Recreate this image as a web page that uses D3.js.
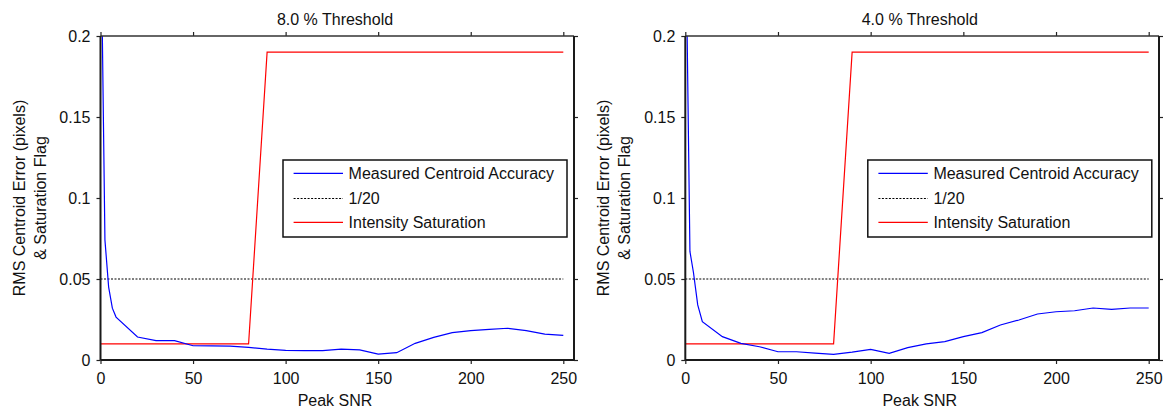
<!DOCTYPE html>
<html>
<head>
<meta charset="utf-8">
<script src="https://cdn.jsdelivr.net/npm/d3@7/dist/d3.min.js"></script>
<style>
  html, body { margin: 0; padding: 0; background: #fff; }
  svg { display: block; }
  text { font-family: "Liberation Sans", Arial, sans-serif; font-size: 16px; fill: #111; }
</style>
</head>
<body>
<svg id="chart" width="1166" height="410"></svg>
<script>
// ---------- Data ----------
const panelTitles = ["8.0 % Threshold", "4.0 % Threshold"];
const xTicks = [0, 50, 100, 150, 200, 250];
const yTicks = [0, 0.05, 0.1, 0.15, 0.2];
const yTickLabels = ["0", "0.05", "0.1", "0.15", "0.2"];
const legendLabels = ["Measured Centroid Accuracy", "1/20", "Intensity Saturation"];
const xLabel = "Peak SNR";
const yLabelLines = ["RMS Centroid Error (pixels)", "& Saturation Flag"];

// Peak SNR samples (8 % threshold run)
const snr8 = [1, 2.4, 4.4, 6.4, 8.4, 20, 30, 40, 50, 60, 70, 80, 90, 100, 110, 120, 130, 140, 150, 160, 170, 180, 190, 200, 210, 220, 230, 240, 250];
// Measured centroid accuracy (8 %)
const acc8 = [0.2, 0.074, 0.045, 0.032, 0.0265, 0.0142, 0.012, 0.012, 0.0088, 0.0087, 0.0086, 0.0078, 0.0067, 0.006, 0.0058, 0.0058, 0.0067, 0.0062, 0.0036, 0.0045, 0.0103, 0.014, 0.0169, 0.0181, 0.0189, 0.0196, 0.0181, 0.016, 0.0152];

// Peak SNR samples (4 % threshold run)
const snr4 = [1, 2.5, 4.4, 6.7, 9.2, 20, 30, 40, 50, 60, 70, 80, 90, 100, 110, 120, 130, 140, 150, 160, 170, 180, 190, 200, 210, 220, 230, 240, 250];
// Measured centroid accuracy (4 %)
const acc4 = [0.2, 0.067, 0.054, 0.034, 0.0237, 0.0144, 0.0103, 0.0082, 0.0051, 0.0051, 0.0043, 0.0035, 0.0049, 0.0066, 0.0041, 0.0076, 0.0099, 0.0113, 0.0144, 0.0169, 0.0216, 0.0247, 0.0284, 0.0298, 0.0304, 0.0321, 0.0313, 0.0321, 0.0321];

// Reference line 1/20
const refSnr = [0, 250];
const refVal = [0.05, 0.05];

// Intensity saturation flag
const satSnr = [0, 80, 90, 250];
const sat8 = [0.01, 0.01, 0.19, 0.19];
const sat4 = [0.01, 0.01, 0.19, 0.19];

// ---------- Drawing ----------
const svg = d3.select("#chart");

const panels = [
  { title: panelTitles[0], x0: 100.5, x250: 563.3, right: 574, snr: snr8, acc: acc8, sat: sat8 },
  { title: panelTitles[1], x0: 685.3, x250: 1148.7, right: 1159, snr: snr4, acc: acc4, sat: sat4 }
];

const plotTop = 36, plotBottom = 360;

panels.forEach((p, i) => {
  const g = svg.append("g");
  const x = d3.scaleLinear().domain([0, 250]).range([p.x0, p.x250]);
  const y = d3.scaleLinear().domain([0, 0.2]).range([plotBottom, plotTop]);

  const clipId = "clip" + i;
  svg.append("defs").append("clipPath").attr("id", clipId)
    .append("rect").attr("x", p.x0).attr("y", plotTop - 1)
    .attr("width", p.right - p.x0).attr("height", plotBottom - plotTop + 2);

  const line = d3.line().x(d => x(d[0])).y(d => y(d[1]));
  const plot = g.append("g").attr("clip-path", `url(#${clipId})`);

  // reference 1/20
  plot.append("path")
    .datum(refSnr.map((s, k) => [s, refVal[k]]))
    .attr("d", line).attr("fill", "none")
    .attr("stroke", "#000").attr("stroke-width", 1)
    .attr("stroke-dasharray", "2,1.5");

  // saturation
  plot.append("path")
    .datum(satSnr.map((s, k) => [s, p.sat[k]]))
    .attr("d", line).attr("fill", "none")
    .attr("stroke", "#ff0000").attr("stroke-width", 1.2);

  // measured accuracy
  plot.append("path")
    .datum(p.snr.map((s, k) => [s, p.acc[k]]))
    .attr("d", line).attr("fill", "none")
    .attr("stroke", "#0000ff").attr("stroke-width", 1.2);

  // Axes
  const yAxis = d3.axisLeft(y).tickValues(yTicks)
    .tickFormat((d, k) => yTickLabels[k]).tickSize(4).tickSizeOuter(0).tickPadding(6);
  const gy = g.append("g").attr("transform", `translate(${p.x0},0)`).call(yAxis);
  gy.select(".domain").remove();

  const xAxis = d3.axisBottom(x).tickValues(xTicks).tickFormat(d3.format("d"))
    .tickSize(4).tickSizeOuter(0).tickPadding(9);
  const gx = g.append("g").attr("transform", `translate(0,${plotBottom})`).call(xAxis);
  gx.select(".domain").remove();

  const xTop = d3.axisTop(x).tickValues(xTicks).tickFormat("").tickSize(4).tickSizeOuter(0);
  const gt = g.append("g").attr("transform", `translate(0,${plotTop})`).call(xTop);
  gt.select(".domain").remove();

  const yRight = d3.axisRight(y).tickValues(yTicks).tickFormat("").tickSize(4).tickSizeOuter(0);
  const gr = g.append("g").attr("transform", `translate(${p.right},0)`).call(yRight);
  gr.select(".domain").remove();

  g.selectAll(".tick line").attr("stroke", "#222").attr("stroke-width", 1.2);
  g.selectAll(".tick text").style("font-family", '"Liberation Sans", Arial, sans-serif')
    .style("font-size", "16px").attr("fill", "#111");

  // Box
  g.append("line").attr("x1", p.x0).attr("x2", p.right).attr("y1", plotTop).attr("y2", plotTop)
    .attr("stroke", "#333").attr("stroke-width", 1.3);
  g.append("line").attr("x1", p.x0).attr("x2", p.right).attr("y1", plotBottom).attr("y2", plotBottom)
    .attr("stroke", "#1a1a1a").attr("stroke-width", 2);
  g.append("line").attr("x1", p.x0).attr("x2", p.x0).attr("y1", plotTop).attr("y2", plotBottom)
    .attr("stroke", "#1a1a1a").attr("stroke-width", 2);
  g.append("line").attr("x1", p.right).attr("x2", p.right).attr("y1", plotTop).attr("y2", plotBottom)
    .attr("stroke", "#1a1a1a").attr("stroke-width", 2);

  // Title
  const cx = p.x0 + 234.5;
  g.append("text").attr("x", cx).attr("y", 25).attr("text-anchor", "middle").text(p.title);
  // X label
  g.append("text").attr("x", cx).attr("y", 406).attr("text-anchor", "middle").text(xLabel);
  // Y label
  const cy = (plotTop + plotBottom) / 2;
  yLabelLines.forEach((t, k) => {
    const lx = p.x0 - 81.5 + k * 21;
    g.append("text")
      .attr("transform", `translate(${lx},${cy}) rotate(-90)`)
      .attr("text-anchor", "middle").attr("dy", "0.35em").text(t);
  });

  // Legend
  const lx0 = p.x0 + 182.5, ly0 = 160, lw = 284, lh = 77;
  const lg = g.append("g");
  lg.append("rect").attr("x", lx0).attr("y", ly0).attr("width", lw).attr("height", lh)
    .attr("fill", "#fff").attr("stroke", "#111").attr("stroke-width", 1.5);
  const entryY = [173.3, 198.5, 222.3];
  const styles = [
    { stroke: "#0000ff", dash: null },
    { stroke: "#000", dash: "2,1.5" },
    { stroke: "#ff0000", dash: null }
  ];
  legendLabels.forEach((lab, k) => {
    lg.append("line").attr("x1", lx0 + 10.6).attr("x2", lx0 + 60)
      .attr("y1", entryY[k]).attr("y2", entryY[k])
      .attr("stroke", styles[k].stroke).attr("stroke-width", 1.2)
      .attr("stroke-dasharray", styles[k].dash);
    lg.append("text").attr("x", lx0 + 65.6).attr("y", entryY[k]).attr("dy", "0.35em").text(lab);
  });
});
</script>
</body>
</html>
